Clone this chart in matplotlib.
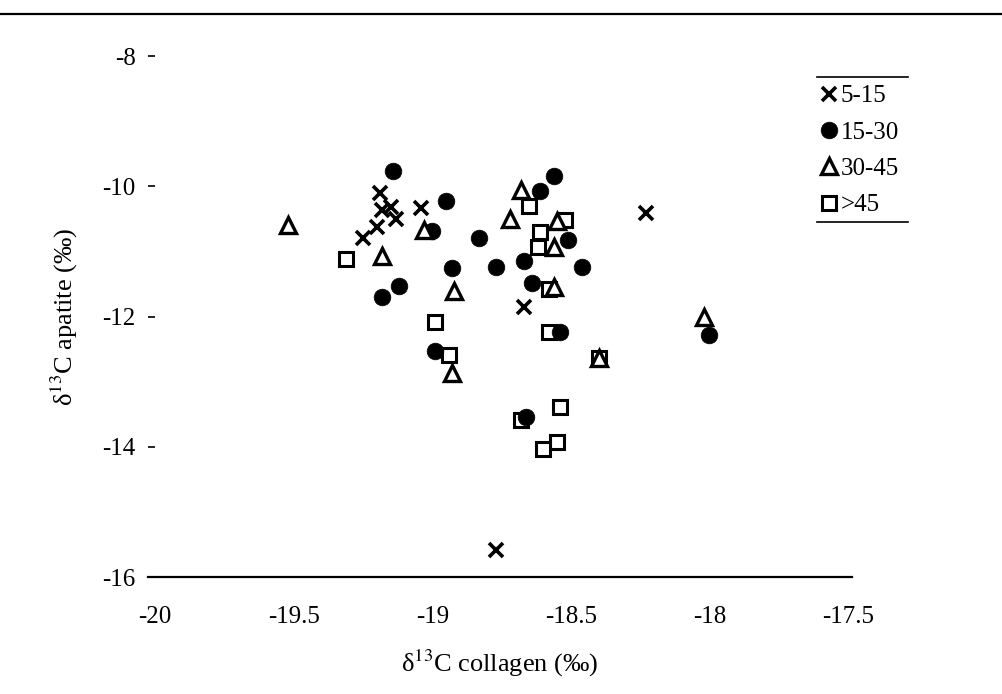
import matplotlib
matplotlib.use("Agg")
import matplotlib.pyplot as plt
from matplotlib.lines import Line2D

plt.rcParams['font.family'] = ['Liberation Serif', 'DejaVu Serif']
plt.rcParams['mathtext.fontset'] = 'stix'

# Data (delta13C collagen, delta13C apatite) by age group
x_5_15 = [-19.19, -19.18, -19.15, -19.13, -19.20, -19.25, -19.04, -18.67, -18.23, -18.77]
y_5_15 = [-10.10, -10.36, -10.32, -10.51, -10.62, -10.80, -10.34, -11.86, -10.41, -15.59]

x_15_30 = [-19.14, -18.95, -19.00, -18.83, -18.93, -18.77, -18.67, -19.12, -19.18,
           -18.64, -18.56, -18.61, -18.51, -18.46, -18.54, -18.99, -18.66, -18.00]
y_15_30 = [-9.76, -10.22, -10.68, -10.80, -11.25, -11.24, -11.15, -11.53, -11.70,
           -11.49, -9.84, -10.08, -10.82, -11.24, -12.24, -12.53, -13.55, -12.29]

x_30_45 = [-19.52, -19.03, -19.18, -18.92, -18.68, -18.72, -18.55, -18.56, -18.56,
           -18.40, -18.93, -18.02]
y_30_45 = [-10.60, -10.67, -11.07, -11.61, -10.05, -10.51, -10.53, -10.93, -11.55,
           -12.64, -12.87, -12.01]

x_45 = [-19.31, -18.65, -18.52, -18.61, -18.62, -18.58, -18.58, -18.40, -18.99,
        -18.94, -18.54, -18.68, -18.55, -18.60]
y_45 = [-11.11, -10.31, -10.52, -10.70, -10.94, -11.58, -12.24, -12.64, -12.08,
        -12.59, -13.39, -13.59, -13.93, -14.04]

labels = ['5-15', '15-30', '30-45', '>45']
x_ticks = [-20, -19.5, -19, -18.5, -18, -17.5]
x_tick_labels = ['-20', '-19.5', '-19', '-18.5', '-18', '-17.5']
y_ticks = [-16, -14, -12, -10, -8]
y_tick_labels = ['-16', '-14', '-12', '-10', '-8']

W, H = 1002, 694
fig = plt.figure(figsize=(W / 100, H / 100), dpi=100)
ax = fig.add_axes([148 / W, 1 - 577 / H, (852 - 148) / W, (577 - 56) / H])

h_sq, = ax.plot(x_45, y_45, linestyle='none', marker='s', markersize=10.5,
                markerfacecolor='white', markeredgecolor='black', markeredgewidth=2.2,
                label=labels[3], zorder=3)
h_ci, = ax.plot(x_15_30, y_15_30, linestyle='none', marker='o', markersize=12,
                markerfacecolor='black', markeredgecolor='black', markeredgewidth=0.5,
                label=labels[1], zorder=4)
h_tr, = ax.plot(x_30_45, y_30_45, linestyle='none', marker='^', markersize=11,
                markerfacecolor='white', markeredgecolor='black', markeredgewidth=2.4,
                label=labels[2], zorder=5)
h_x, = ax.plot(x_5_15, y_5_15, linestyle='none', marker='x', markersize=10,
               markeredgecolor='black', markeredgewidth=2.6, label=labels[0], zorder=6)

ax.set_xlim(-20.025, -17.486)
ax.set_ylim(-16, -8)
ax.set_xticks(x_ticks)
ax.set_xticklabels(x_tick_labels)
ax.set_yticks(y_ticks)
ax.set_yticklabels(y_tick_labels)

for s in ['top', 'right', 'left']:
    ax.spines[s].set_visible(False)
ax.spines['bottom'].set_linewidth(1.6)

ax.tick_params(axis='x', length=0, pad=21, labelsize=18)
ax.tick_params(axis='y', direction='in', length=5, width=1.2, pad=9, labelsize=18)

ax.set_xlabel(r'δ$^{13}$C collagen (‰)', fontsize=19, labelpad=14)
ax.set_ylabel(r'δ$^{13}$C apatite (‰)', fontsize=19, labelpad=16)

leg = ax.legend(handles=[h_x, h_ci, h_tr, h_sq], labels=labels,
                loc='upper left', bbox_to_anchor=(821 / W, 1 - 85 / H),
                bbox_transform=fig.transFigure, frameon=False, fontsize=18,
                handlelength=0.6, handletextpad=0.2, labelspacing=0.55,
                borderpad=0.0, borderaxespad=0.0, markerscale=1.0)

# decorative rules: top page rule and legend rules
fig.add_artist(Line2D([0, 1], [1 - 14 / H, 1 - 14 / H], color='black', linewidth=1.6,
                      transform=fig.transFigure))
for yy in (77, 222):
    fig.add_artist(Line2D([817 / W, 908 / W], [1 - yy / H, 1 - yy / H], color='black',
                          linewidth=1.2, transform=fig.transFigure))

fig.savefig('out.png', dpi=100)
